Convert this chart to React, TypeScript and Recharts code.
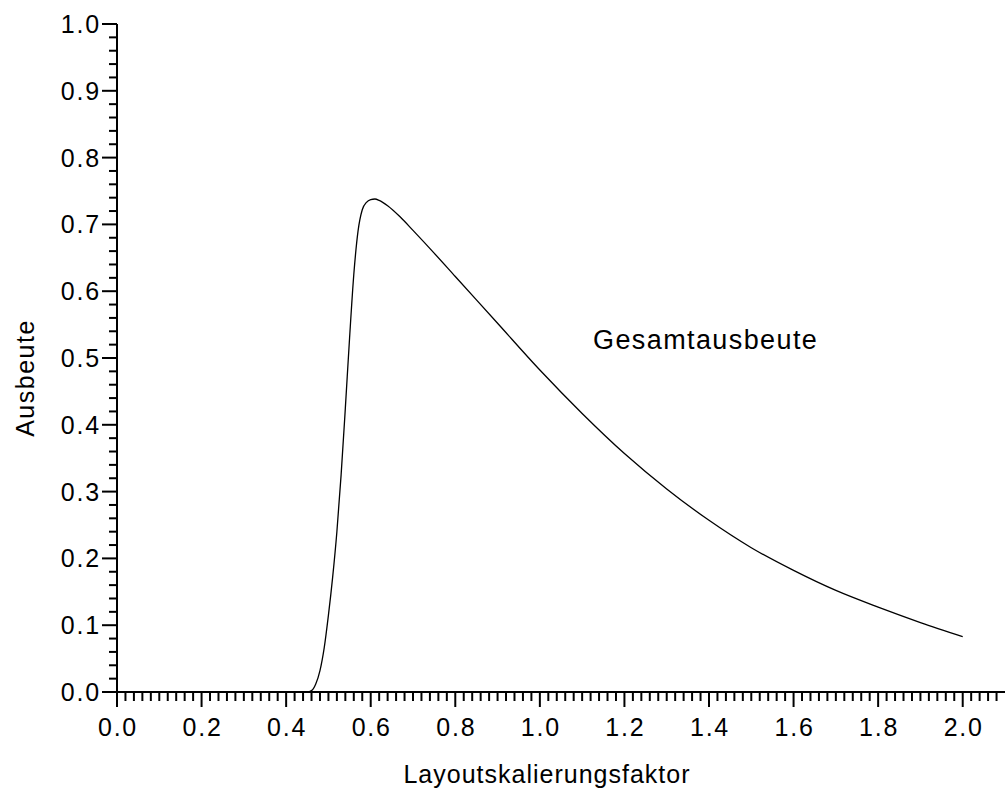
import { LineChart, Line, XAxis, YAxis, ReferenceDot } from 'recharts';

const factor = [
  0.0, 0.3, 0.45, 0.46, 0.47, 0.48, 0.49, 0.5, 0.51, 0.52, 0.53, 0.54, 0.55, 0.56, 0.57, 0.58,
  0.59, 0.6, 0.61, 0.62, 0.64, 0.67, 0.7, 0.75, 0.8, 0.9, 1.0, 1.1, 1.2, 1.3, 1.4, 1.5, 1.6,
  1.7, 1.8, 1.9, 2.0,
];
const yieldTotal = [
  0.0, 0.0, 0.0, 0.002, 0.012, 0.032, 0.066, 0.115, 0.172, 0.24, 0.325, 0.425, 0.53, 0.625, 0.69,
  0.722, 0.733, 0.737, 0.738, 0.736, 0.728, 0.711, 0.691, 0.657, 0.622, 0.552, 0.482, 0.417, 0.357,
  0.304, 0.257, 0.216, 0.182, 0.152, 0.127, 0.104, 0.083,
];

const xMajorLabels = ['0.0', '0.2', '0.4', '0.6', '0.8', '1.0', '1.2', '1.4', '1.6', '1.8', '2.0'];
const yMajorLabels = ['0.0', '0.1', '0.2', '0.3', '0.4', '0.5', '0.6', '0.7', '0.8', '0.9', '1.0'];

const seriesLabel = 'Gesamtausbeute';
const xTitle = 'Layoutskalierungsfaktor';
const yTitle = 'Ausbeute';

const data = factor.map((x, i) => ({ x, y: yieldTotal[i] }));

// minor ticks every 0.02, majors every 0.2 (x) / 0.1 (y)
const xTicks = Array.from({ length: 105 }, (_, i) => i / 50);
const yTicks = Array.from({ length: 51 }, (_, i) => i / 50);

const FONT = '"Liberation Sans", Arial, sans-serif';

function labelFor(value: number, labels: string[], step: number) {
  const k = Math.round(value / step);
  if (Math.abs(value - k * step) > 1e-6) return null;
  return labels[k] ?? null;
}

function XTick(props: any) {
  const { x, y, payload } = props;
  const label = labelFor(payload.value, xMajorLabels, 0.2);
  return (
    <g>
      <line x1={x} x2={x} y1={y} y2={y + (label ? 15 : 9)} stroke="#000" strokeWidth={2} />
      {label && (
        <text x={x + 1} y={y + 44} textAnchor="middle" fontSize={25} letterSpacing={1.8} fontFamily={FONT} fill="#000">
          {label}
        </text>
      )}
    </g>
  );
}

function YTick(props: any) {
  const { x, y, payload } = props;
  const label = labelFor(payload.value, yMajorLabels, 0.1);
  return (
    <g>
      <line x1={x} x2={x - (label ? 15 : 8)} y1={y} y2={y} stroke="#000" strokeWidth={2} />
      {label && (
        <text x={x - 16} y={y + 9} textAnchor="end" fontSize={25} letterSpacing={1.8} fontFamily={FONT} fill="#000">
          {label}
        </text>
      )}
    </g>
  );
}

export default function App() {
  return (
    <div style={{ position: 'absolute', left: 0, top: 0, width: 1006, height: 790, background: '#fff' }}>
      <LineChart width={1006} height={790} data={data} margin={{ top: 24, right: 1, bottom: 0, left: 0 }}>
        <XAxis
          dataKey="x"
          type="number"
          domain={[0, 2.1]}
          ticks={xTicks}
          interval={0}
          tickSize={0}
          tickMargin={0}
          tickLine={false}
          tick={<XTick />}
          height={98}
          axisLine={{ stroke: '#000', strokeWidth: 2 }}
          allowDataOverflow
          label={{
            content: () => (
              <text x={547} y={783} textAnchor="middle" fontSize={25} letterSpacing={1} fontFamily={FONT} fill="#000">
                {xTitle}
              </text>
            ),
          }}
        />
        <YAxis
          type="number"
          domain={[0, 1]}
          ticks={yTicks}
          interval={0}
          tickSize={0}
          tickMargin={0}
          tickLine={false}
          tick={<YTick />}
          width={117}
          axisLine={{ stroke: '#000', strokeWidth: 2 }}
          label={{
            content: () => (
              <text
                x={0}
                y={0}
                transform="translate(34 378) rotate(-90)"
                textAnchor="middle"
                fontSize={25}
                letterSpacing={1.5}
                fontFamily={FONT}
                fill="#000"
              >
                {yTitle}
              </text>
            ),
          }}
        />
        <Line
          type="monotone"
          dataKey="y"
          stroke="#000"
          strokeWidth={1.3}
          dot={false}
          isAnimationActive={false}
        />
        <ReferenceDot
          x={1.125}
          y={0.53}
          r={0}
          fill="none"
          stroke="none"
          label={{
            content: () => (
              <text x={593} y={349} fontSize={27} letterSpacing={1.4} fontFamily={FONT} fill="#000">
                {seriesLabel}
              </text>
            ),
          }}
        />
      </LineChart>
    </div>
  );
}
